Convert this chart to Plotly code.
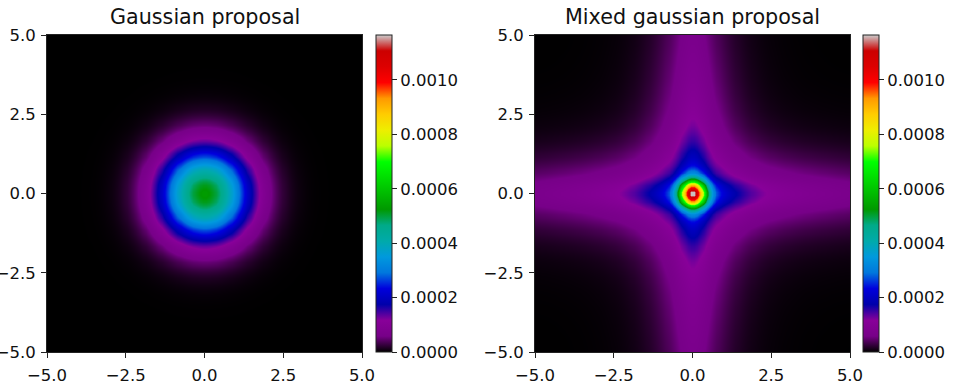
import numpy as np
import plotly.graph_objects as go

# ---- data ----
axis_limits = [-5.0, 5.0]
grid_points = 100
tick_values = [-5.0, -2.5, 0.0, 2.5, 5.0]
cbar_ticks = [0.0, 0.0002, 0.0004, 0.0006, 0.0008, 0.0010]
color_max = 0.001165

titles = ["Gaussian proposal", "Mixed gaussian proposal"]

# isotropic gaussian proposal
gauss_peak = 0.00053
gauss_sigma = 1.0

# mixed gaussian proposal: mixture of gaussian components
# (spread along an axis, spread across it, relative height); each
# anisotropic component is shared equally between the x and y axes
mix_peak = 0.001165
mix_along = [0.2, 0.3, 1.0, 2.0, 3.5, 3.5, 6.0, 6.0, 10.0, 10.0]
mix_across = [0.2, 0.3, 0.3, 1.3, 0.3, 1.3, 0.3, 0.9, 0.6, 1.8]
mix_heights = [0.0277, 0.6565, 0.1295, 0.0222, 0.0256, 0.0245, 0.0197,
               0.0719, 0.0336, 0.0088]

# nipy_spectral colour map
nipy_stops = [0.0, 0.05, 0.10, 0.15, 0.20, 0.25, 0.30, 0.35, 0.40, 0.45, 0.50,
              0.55, 0.60, 0.65, 0.70, 0.75, 0.80, 0.85, 0.90, 0.95, 1.0]
nipy_rgb = [(0, 0, 0), (0.4667, 0, 0.5333), (0.5333, 0, 0.6), (0, 0, 0.6667),
            (0, 0, 0.8667), (0, 0.4667, 0.8667), (0, 0.6, 0.8667), (0, 0.6667, 0.6667),
            (0, 0.6667, 0.5333), (0, 0.6, 0), (0, 0.7333, 0), (0, 0.8667, 0),
            (0, 1, 0), (0.7333, 1, 0), (0.9333, 0.9333, 0), (1, 0.8, 0),
            (1, 0.6, 0), (1, 0, 0), (0.8667, 0, 0), (0.8, 0, 0), (0.8, 0.8, 0.8)]

colorscale = [[s, "rgb(%d,%d,%d)" % tuple(round(c * 255) for c in rgb)]
              for s, rgb in zip(nipy_stops, nipy_rgb)]

# ---- density grids ----
g = np.linspace(axis_limits[0], axis_limits[1], grid_points)
X, Y = np.meshgrid(g, g)
Z_gauss = gauss_peak * np.exp(-(X ** 2 + Y ** 2) / (2 * gauss_sigma ** 2))


def component(a, s):
    horiz = np.exp(-X ** 2 / (2 * a ** 2) - Y ** 2 / (2 * s ** 2))
    vert = np.exp(-Y ** 2 / (2 * a ** 2) - X ** 2 / (2 * s ** 2))
    return 0.5 * (horiz + vert)


Z_mix = mix_peak * sum(h * component(a, s)
                       for a, s, h in zip(mix_along, mix_across, mix_heights))

# ---- layout (pixel geometry of the reference) ----
W, H = 957, 384
L, R, T, B = 47, 879, 35, 352          # plotting area spanned by both panels
PW, PH = R - L, B - T
font = "DejaVu Sans"
txt = "#111111"

panels = [
    dict(z=Z_gauss, xl=47, xr=362, cb=376),
    dict(z=Z_mix, xl=535, xr=850, cb=863),
]

fig = go.Figure()
for i, p in enumerate(panels):
    sfx = "" if i == 0 else str(i + 1)
    fig.add_trace(go.Heatmap(
        z=p["z"], x=g, y=g, colorscale=colorscale, zmin=0, zmax=color_max,
        zsmooth="best", xaxis="x" + sfx, yaxis="y" + sfx,
        colorbar=dict(
            x=(p["cb"] - L) / PW, xanchor="left", y=0, yanchor="bottom",
            len=1, lenmode="fraction",
            thickness=16, thicknessmode="pixels", xpad=0, ypad=0,
            outlinewidth=1, outlinecolor="#222",
            tickvals=cbar_ticks, tickformat=".4f", tickprefix="\u00a0",
            ticks="outside", ticklen=5,
            tickcolor="#222", tickfont=dict(family=font, size=16.5, color=txt),
        ),
        hoverinfo="skip",
    ))
    axis_common = dict(range=axis_limits, tickvals=tick_values, tickformat=".1f",
                       ticks="outside", ticklen=5, tickcolor="#222", showline=True,
                       linecolor="#222", linewidth=1, mirror=True, showgrid=False,
                       zeroline=False, tickfont=dict(family=font, size=16.5, color=txt))
    fig.layout["xaxis" + sfx] = dict(domain=[(p["xl"] - L) / PW, (p["xr"] - L) / PW],
                                     anchor="y" + sfx, ticklabelstandoff=3, **axis_common)
    fig.layout["yaxis" + sfx] = dict(domain=[0, 1], anchor="x" + sfx,
                                     ticklabelstandoff=2, **axis_common)
    fig.add_annotation(text=titles[i], x=((p["xl"] + p["xr"]) / 2 - L) / PW,
                       y=1 + (T - 17) / PH,
                       xref="paper", yref="paper", xanchor="center", yanchor="middle",
                       showarrow=False, font=dict(family=font, size=20.7, color=txt))

fig.update_layout(width=W, height=H,
                  margin=dict(l=L, r=W - R, t=T, b=H - B, autoexpand=False),
                  paper_bgcolor="white", plot_bgcolor="black", showlegend=False)

fig.write_html("out.html", config={"displayModeBar": False},
               post_script="document.body.style.margin='0';")
